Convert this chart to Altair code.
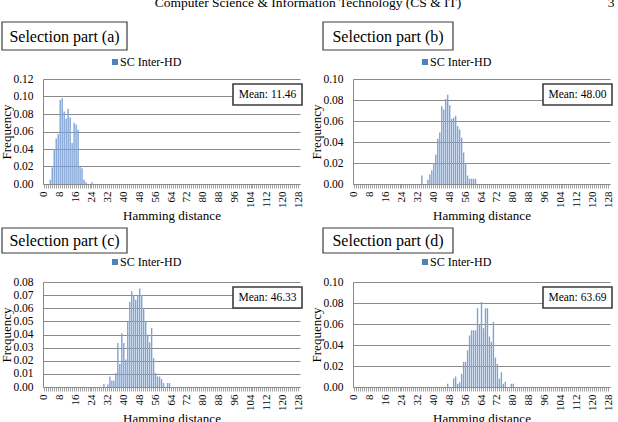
import altair as alt
import pandas as pd

FONT = "Liberation Serif"
BAR_COLOR = "#7ea2d6"
LEG_COLOR = "#4f81bd"
GRID = "#8a8a8a"

CATS = list(range(129))
HEADER = "Computer Science & Information Technology (CS & IT)"
PAGE_NO = "3"
LEGEND = "SC Inter-HD"

TITLES = ["Selection part (a)", "Selection part (b)", "Selection part (c)", "Selection part (d)"]
MEANS = ["Mean: 11.46", "Mean: 48.00", "Mean: 46.33", "Mean: 63.69"]
YMAX = [0.12, 0.10, 0.08, 0.10]
YSTEP = [0.02, 0.02, 0.01, 0.02]

A_START = 3
A_FREQ = [0.005, 0.019, 0.040, 0.052, 0.057, 0.096, 0.098, 0.083, 0.075, 0.086, 0.076,
          0.047, 0.070, 0.068, 0.062, 0.020, 0.018, 0.005, 0.002, 0.0, 0.0, 0.002]
B_START = 34
B_FREQ = [0.008, 0.0, 0.0, 0.004, 0.009, 0.013, 0.020, 0.028, 0.043, 0.049, 0.074, 0.071,
          0.081, 0.085, 0.075, 0.062, 0.063, 0.065, 0.055, 0.052, 0.044, 0.030, 0.020,
          0.008, 0.005, 0.005, 0.005, 0.005]
C_START = 30
C_FREQ = [0.0023, 0.0, 0.002, 0.008, 0.005, 0.005, 0.0107, 0.0335, 0.0175, 0.041, 0.0335,
          0.021, 0.050, 0.065, 0.073, 0.070, 0.0665, 0.070, 0.075, 0.070, 0.060, 0.050,
          0.040, 0.034, 0.045, 0.022, 0.0107, 0.008, 0.008, 0.006, 0.003, 0.0, 0.003, 0.003]
D_START = 47
D_FREQ = [0.003, 0.0, 0.0, 0.008, 0.010, 0.003, 0.0045, 0.0125, 0.024, 0.024, 0.035, 0.049,
          0.054, 0.054, 0.054, 0.075, 0.059, 0.081, 0.056, 0.075, 0.075, 0.048, 0.043, 0.062,
          0.028, 0.022, 0.008, 0.014, 0.003, 0.005, 0.0, 0.0, 0.003, 0.003]

SERIES = [(A_START, A_FREQ), (B_START, B_FREQ), (C_START, C_FREQ), (D_START, D_FREQ)]

W, H = 257, 105


def full(start, freq):
    out = [0.0] * len(CATS)
    for k, f in enumerate(freq):
        out[start + k] = f
    return out


def panel(i):
    start, freq = SERIES[i]
    df = pd.DataFrame({"hd": CATS, "freq": full(start, freq)})
    nsteps = int(round(YMAX[i] / YSTEP[i]))
    yvals = [round(k * YSTEP[i], 2) for k in range(nsteps + 1)]

    bars = alt.Chart(df).mark_bar(color=BAR_COLOR).encode(
        x=alt.X("hd:O",
                scale=alt.Scale(domain=CATS, paddingInner=0.3, paddingOuter=0.3),
                axis=alt.Axis(title="Hamming distance",
                              labelExpr="datum.value % 8 == 0 ? datum.label : ''",
                              labelAngle=270, labelAlign="right", labelBaseline="middle",
                              labelFontSize=11, labelPadding=3, labelOverlap=False,
                              tickSize=4, tickColor=GRID, tickWidth=0.8,
                              domainColor=GRID, titlePadding=2, titleFontSize=13)),
        y=alt.Y("freq:Q",
                scale=alt.Scale(domain=[0, YMAX[i]], nice=False, zero=True),
                axis=alt.Axis(title="Frequency", values=yvals, format=".2f",
                              ticks=False, labelPadding=10, labelFontSize=11.5,
                              grid=True, gridColor=GRID, gridWidth=1,
                              domainColor=GRID, titleFontSize=13,
                              titleX=-37, titleY=H / 2, titleAngle=270,
                              titleBaseline="middle", titleAlign="center")),
    )

    ann = pd.DataFrame({"title": [TITLES[i]], "mean": [MEANS[i]], "legend": [LEGEND],
                        "header": [HEADER], "page": [PAGE_NO]})
    base = alt.Chart(ann)
    left = i % 2 == 0
    tx0, tx1 = (-41, 84) if left else (-30, 100)
    ty0, ty1 = (-57, -29) if i < 2 else (-54, -29)

    title_box = base.mark_rect(fill="white", stroke="#3c3c3c", strokeWidth=1.2).encode(
        x=alt.value(tx0), x2=alt.value(tx1), y=alt.value(ty0), y2=alt.value(ty1))
    title_txt = base.mark_text(font=FONT, fontSize=16, align="center", baseline="middle",
                               color="black").encode(
        x=alt.value((tx0 + tx1) / 2), y=alt.value((ty0 + ty1) / 2 + 0.5), text="title:N")

    mean_box = base.mark_rect(fill="white", stroke="#3c3c3c", strokeWidth=1.6).encode(
        x=alt.value(190), x2=alt.value(259), y=alt.value(5), y2=alt.value(26))
    mean_txt = base.mark_text(font=FONT, fontSize=11.5, align="center", baseline="middle",
                              color="black").encode(
        x=alt.value(224.5), y=alt.value(16), text="mean:N")

    ly = -20 if i < 2 else -23
    leg_sq = base.mark_rect(fill=LEG_COLOR).encode(
        x=alt.value(69), x2=alt.value(75), y=alt.value(ly), y2=alt.value(ly + 6))
    leg_txt = base.mark_text(font=FONT, fontSize=12, align="left", baseline="alphabetic",
                             color="black").encode(
        x=alt.value(77), y=alt.value(ly + 6.5), text="legend:N")

    layers = [bars, title_box, title_txt, mean_box, mean_txt, leg_sq, leg_txt]
    if i == 0:
        head = base.mark_text(font=FONT, fontSize=13.5, align="center",
                              baseline="alphabetic", color="black").encode(
            x=alt.value(265), y=alt.value(-72), text="header:N")
        page = base.mark_text(font=FONT, fontSize=13.5, align="center",
                              baseline="alphabetic", color="black").encode(
            x=alt.value(568), y=alt.value(-72), text="page:N")
        layers += [head, page]

    return alt.layer(*layers).properties(width=W, height=H)


chart = alt.concat(
    panel(0), panel(1), panel(2), panel(3),
    columns=2, spacing={"row": 98, "column": 53}, bounds="flush",
).properties(
    padding={"left": 0, "top": -4, "right": 0, "bottom": 0},
    background="white",
).configure_view(stroke=None).configure_axis(
    labelFont=FONT, titleFont=FONT, labelColor="black", titleColor="black",
    titleFontWeight="normal",
)

chart.save("out.html", embed_options={"renderer": "svg", "actions": False})
